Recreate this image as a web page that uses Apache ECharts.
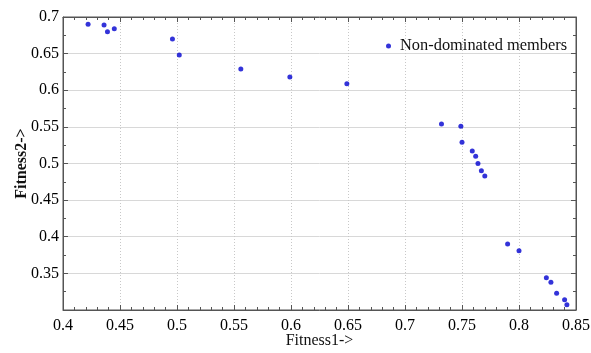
<!DOCTYPE html>
<html>
<head>
<meta charset="utf-8">
<script src="https://cdn.jsdelivr.net/npm/echarts@6/dist/echarts.min.js"></script>
<style>html,body{margin:0;padding:0;background:#fff;}#c{width:591px;height:353px;}</style>
</head>
<body>
<div id="c"></div>
<script>
var fitness1 = [0.422,0.436,0.439,0.445,0.496,0.502,0.556,0.599,0.649,0.732,0.749,0.750,0.759,0.762,0.764,0.767,0.770,0.790,0.800,0.824,0.828,0.833,0.840,0.842];
var fitness2 = [0.690,0.689,0.680,0.684,0.670,0.648,0.629,0.618,0.609,0.554,0.551,0.529,0.517,0.510,0.500,0.490,0.483,0.390,0.381,0.344,0.338,0.323,0.314,0.307];
var seriesName = 'Non-dominated members';
var xTitle = 'Fitness1->';
var yTitle = 'Fitness2->';

var pts = fitness1.map(function(x,i){return [x, fitness2[i]];});
var font = 'Liberation Serif';
var fmt = function(v){ return String(parseFloat(v.toFixed(2))); };
var chart = echarts.init(document.getElementById('c'), null, {renderer:'canvas'});
var axisLine = {show:true, lineStyle:{color:'#555', width:1}};
chart.setOption({
  animation:false,
  backgroundColor:'#fff',
  grid:{left:63, right:15, top:17, bottom:43, outerBoundsMode:'none', containLabel:false,
        show:true, borderColor:'#555', borderWidth:1, backgroundColor:'transparent'},
  legend:{
    data:[{name:seriesName, icon:'circle'}],
    left:381, top:33, itemWidth:5, itemHeight:5, itemGap:10,
    textStyle:{fontFamily:font, fontSize:16.4, color:'#111', padding:[0,0,0,4]}
  },
  xAxis:[{
    type:'value', min:0.4, max:0.85, interval:0.05, position:'bottom',
    name:xTitle, nameLocation:'middle', nameGap:23, nameMoveOverlap:false,
    nameTextStyle:{fontFamily:font, fontSize:16, color:'#111', verticalAlign:'top'},
    axisLine:axisLine,
    axisTick:{show:true, inside:true, length:5, lineStyle:{color:'#555'}},
    minorTick:{show:true, splitNumber:5, length:3, lineStyle:{color:'#555'}},
    axisLabel:{fontFamily:font, fontSize:16, color:'#000', margin:8, formatter:fmt},
    splitLine:{show:true, lineStyle:{color:'#c8c8c8', type:[1,2], width:1}}
  },{
    type:'value', min:0.4, max:0.85, interval:0.05, position:'top',
    axisLine:axisLine,
    axisTick:{show:true, inside:true, length:5, lineStyle:{color:'#555'}},
    minorTick:{show:true, splitNumber:5, length:3, lineStyle:{color:'#555'}},
    axisLabel:{show:false}, splitLine:{show:false}
  }],
  yAxis:[{
    type:'value', min:0.3, max:0.7, interval:0.05, position:'left',
    name:yTitle, nameLocation:'middle', nameGap:33, nameRotate:90, nameMoveOverlap:false,
    nameTextStyle:{fontFamily:font, fontSize:16, fontWeight:'bold', color:'#111'},
    axisLine:axisLine,
    axisTick:{show:true, inside:true, length:5, lineStyle:{color:'#555'}},
    minorTick:{show:true, splitNumber:2, length:3, lineStyle:{color:'#555'}},
    axisLabel:{fontFamily:font, fontSize:16, color:'#000', margin:4,
      formatter:function(v){ return Math.abs(v-0.3)<1e-6 ? '' : fmt(v); }},
    splitLine:{show:true, lineStyle:{color:'#d8d8d8', type:'solid', width:1}}
  },{
    type:'value', min:0.3, max:0.7, interval:0.05, position:'right',
    axisLine:axisLine,
    axisTick:{show:true, inside:true, length:5, lineStyle:{color:'#555'}},
    minorTick:{show:true, splitNumber:2, length:3, lineStyle:{color:'#555'}},
    axisLabel:{show:false}, splitLine:{show:false}
  }],
  series:[{
    name:seriesName, type:'scatter', xAxisIndex:0, yAxisIndex:0,
    data:pts, symbol:'circle', symbolSize:5,
    itemStyle:{color:'#0000d0'}
  }]
});
</script>
</body>
</html>
